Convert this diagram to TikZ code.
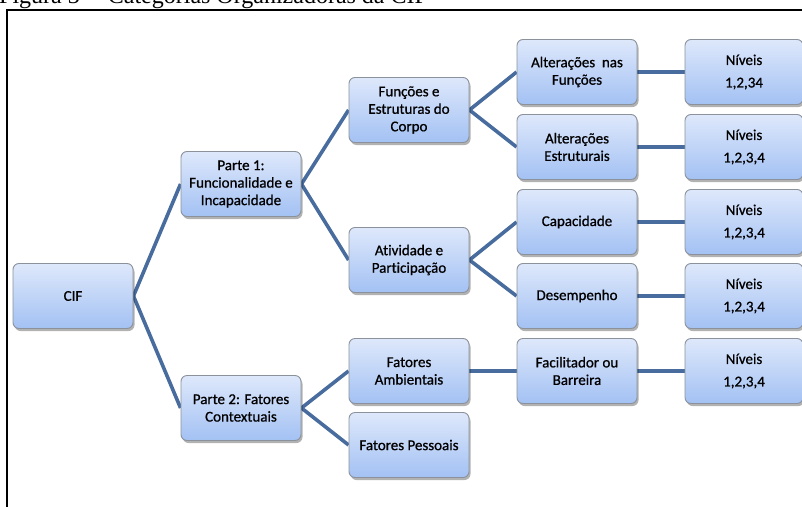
\documentclass[tikz,border=0pt]{standalone}
\usepackage{fontspec}
\newfontfamily\calibfont[Ligatures=NoCommon,FakeBold=0.8]{Carlito}
\newfontfamily\capfont{Liberation Serif}
\usetikzlibrary{positioning,shadows,backgrounds}
\definecolor{boxtop}{RGB}{222,232,251}
\definecolor{boxbottom}{RGB}{163,193,243}
\definecolor{boxline}{RGB}{140,146,156}
\definecolor{linkblue}{RGB}{72,108,158}

\begin{document}
\begin{tikzpicture}
[
  x=1pt, y=-1pt,
  box/.style={rectangle, rounded corners=6pt, draw=boxline, line width=0.9pt,
    top color=boxtop, bottom color=boxbottom, minimum width=120pt,
    minimum height=65pt, inner sep=2pt, align=center,
    drop shadow={shadow xshift=1.5pt, shadow yshift=-2.5pt, opacity=0.3, fill=black}},
  nivel/.style={box, minimum width=118pt},
  link/.style={draw=linkblue, line width=3.6pt},
  node distance=168pt,
  on grid,
  font=\calibfont\fontsize{15}{17.5}\selectfont
]
 \useasboundingbox (0,0) rectangle (802,506);

 % caption and frame
 \node[anchor=base west, inner sep=0pt, font=\capfont\fontsize{24}{24}\selectfont] (caption) at (-1,3) {Figura 3 -- Categorias Organizadoras da CIF};
 \draw[line width=2pt] (7,507) -- (7,9.5) -- (803,9.5);

 \node[box] (cif) at (73,296) {CIF};
 \node[box] (p1) [above right=112pt and 168pt of cif] {Parte 1:\\Funcionalidade e\\Incapacidade};
 \node[box] (p2) [below right=112pt and 168pt of cif] {Parte 2: Fatores\\Contextuais};

 \node[box] (corpo) [above right=74pt and 168pt of p1] {Funções e\\Estruturas do\\Corpo};
 \node[box] (ativ) [below right=76pt and 168pt of p1] {Atividade e\\Participação};
 \node[box] (amb) [above right=37pt and 168pt of p2] {Fatores\\Ambientais};
 \node[box] (pess) [below right=37pt and 168pt of p2] {Fatores Pessoais};

 \node[box] (func) [above right=38pt and 168pt of corpo] {Alterações\ \ nas\\Funções};
 \node[box] (estr) [below right=37pt and 168pt of corpo] {Alterações\\Estruturais};
 \node[box] (capac) [above right=38pt and 168pt of ativ] {Capacidade};
 \node[box] (desemp) [below right=36pt and 168pt of ativ] {Desempenho};
 \node[box] (facil) [right=of amb] {Facilitador ou\\Barreira};

 \node[nivel] (n1) [right=167pt of func] {Níveis\\[5pt]1,2,34};
 \node[nivel] (n2) [right=167pt of estr] {Níveis\\[5pt]1,2,3,4};
 \node[nivel] (n3) [right=167pt of capac] {Níveis\\[5pt]1,2,3,4};
 \node[nivel] (n4) [right=167pt of desemp] {Níveis\\[5pt]1,2,3,4};
 \node[nivel] (n5) [right=167pt of facil] {Níveis\\[5pt]1,2,3,4};

 \begin{scope}[on background layer]
  \path[link]
    (cif.east) edge (p1.west)
    (cif.east) edge (p2.west)
    (p1.east) edge (corpo.west)
    (p1.east) edge (ativ.west)
    (p2.east) edge (amb.west)
    (p2.east) edge (pess.west)
    (corpo.east) edge (func.west)
    (corpo.east) edge (estr.west)
    (ativ.east) edge (capac.west)
    (ativ.east) edge (desemp.west)
    (amb.east) edge (facil.west)
    (func.east) edge (n1.west)
    (estr.east) edge (n2.west)
    (capac.east) edge (n3.west)
    (desemp.east) edge (n4.west)
    (facil.east) edge (n5.west);
 \end{scope}
\end{tikzpicture}
\end{document}
